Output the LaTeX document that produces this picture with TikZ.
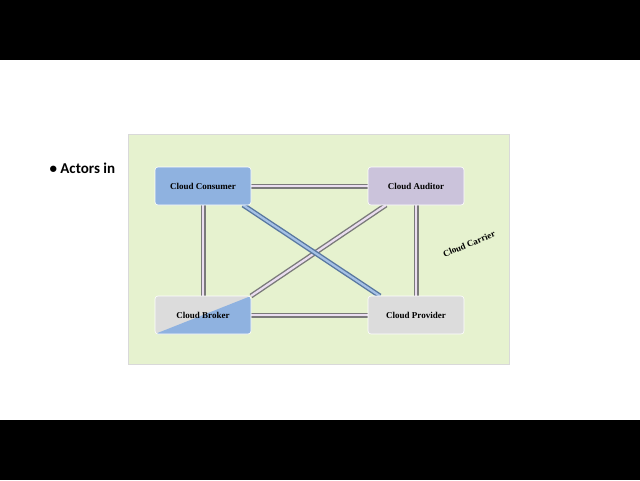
\documentclass[tikz,border=0pt]{standalone}
\usepackage{fontspec}
\setmainfont{Liberation Serif}
\newfontfamily\slidefont{Carlito}
\usetikzlibrary{positioning, calc}
\definecolor{panelgreen}{HTML}{E6F2CF}
\definecolor{consumerblue}{HTML}{8FB2E0}
\definecolor{auditorlilac}{HTML}{CBC3DB}
\definecolor{providergray}{HTML}{DCDCDC}
\definecolor{linkgray}{HTML}{7A7A7A}
\definecolor{linkblue}{HTML}{6F96C8}
\definecolor{linklilac}{HTML}{EADDF0}
\begin{document}
\begin{tikzpicture}[x=1pt,y=-1pt,
  actor/.style={rounded corners=3pt,minimum width=96pt,minimum height=38pt,
    inner sep=0pt,font=\fontsize{9}{10}\selectfont\bfseries,draw=white,line width=0.6pt},
  link/.style={double=linklilac,double distance=2.2pt,draw=linkgray,line width=1.4pt}]
\useasboundingbox (0,0) rectangle (640,480);
\fill[black] (0,0) rectangle (640,60);
\fill[black] (0,420) rectangle (640,480);
\node[anchor=west,font=\slidefont\fontsize{15}{18}\selectfont\bfseries] (bullet) at (46,168) {\textbullet\ Actors in};
\fill[panelgreen,draw=white!85!black] (128,134) rectangle (509,364);
% links first, boxes on top
\coordinate (consumerpt) at (203,186);
\coordinate (auditorpt) at (416,186);
\coordinate (providerpt) at (416,315);
\coordinate (brokerpt) at (203,315);
\draw[link] (consumerpt) -- (auditorpt);
\draw[link] (brokerpt) -- (providerpt);
\draw[link] (consumerpt) -- (brokerpt);
\draw[link] (auditorpt) -- (providerpt);
\draw[link] ($(auditorpt)+(-30,19)$) -- ($(brokerpt)+(48,-19)$);
\draw[link,double=consumerblue!80!white,draw=linkblue!80!black] ($(consumerpt)+(40,19)$) -- ($(providerpt)+(-36,-19)$);
\node[actor,fill=consumerblue] (consumer) at (consumerpt) {Cloud Consumer};
\node[actor,fill=auditorlilac] (auditor) at (auditorpt) {Cloud Auditor};
\node[actor,fill=providergray] (provider) at (providerpt) {Cloud Provider};
\node[actor,fill=providergray,path picture={
  \fill[consumerblue] (path picture bounding box.south west) -- (path picture bounding box.north east)
    -- (path picture bounding box.south east) -- cycle;}] (broker) at (brokerpt) {Cloud Broker};
\node[font=\fontsize{9}{10}\selectfont\bfseries,rotate=22] (carrier) at (469,244) {Cloud Carrier};
\end{tikzpicture}
\end{document}
